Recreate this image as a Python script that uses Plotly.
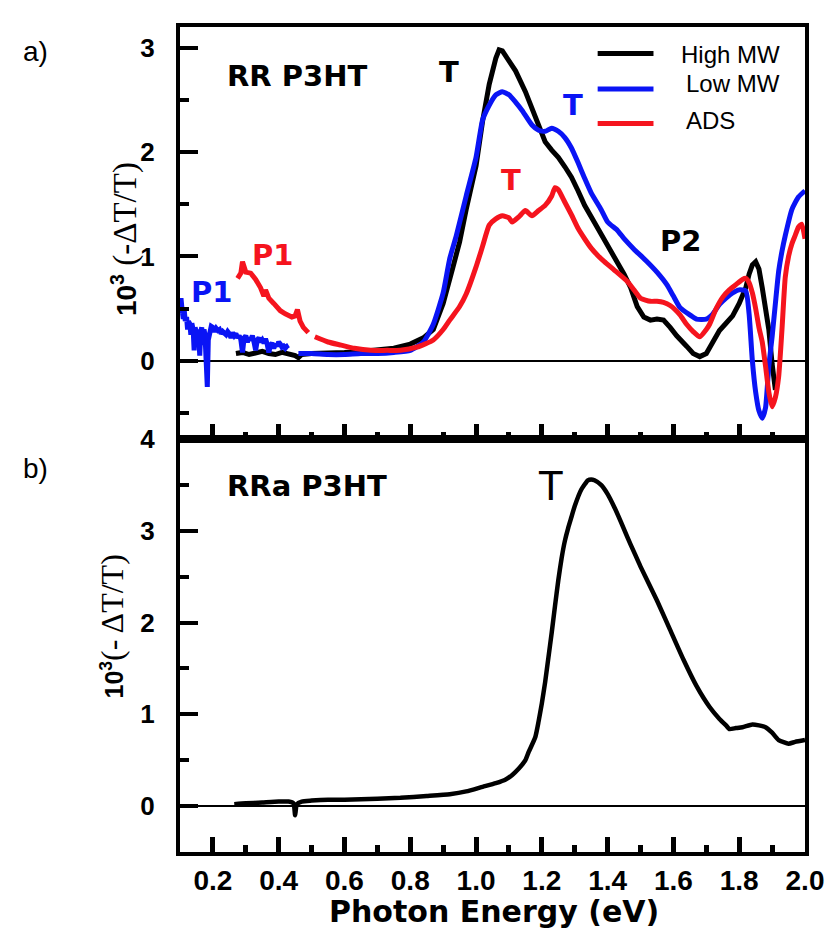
import plotly.graph_objects as go

# ---------------- data ----------------
# Panel a) RR P3HT
high_x = [0.27,0.29,0.31,0.33,0.35,0.37,0.39,0.41,0.43,0.45,0.46,0.47,0.50,0.55,0.60,0.65,0.70,0.75,0.80,0.84,0.87,0.90,0.93,0.95,0.97,1.00,1.02,1.04,1.06,1.07,1.08,1.10,1.12,1.15,1.17,1.19,1.21,1.23,1.25,1.27,1.29,1.31,1.33,1.35,1.37,1.40,1.42,1.45,1.47,1.49,1.51,1.53,1.55,1.57,1.59,1.61,1.64,1.66,1.68,1.70,1.72,1.74,1.76,1.78,1.80,1.82,1.83,1.84,1.85,1.86,1.87,1.88,1.89,1.90,1.91]
high_y = [0.07,0.08,0.06,0.07,0.09,0.07,0.06,0.08,0.07,0.05,0.03,0.06,0.07,0.07,0.08,0.09,0.10,0.12,0.16,0.22,0.30,0.55,0.90,1.14,1.45,1.87,2.30,2.65,2.90,2.98,2.97,2.88,2.78,2.58,2.42,2.25,2.10,2.02,1.95,1.86,1.76,1.63,1.49,1.38,1.27,1.12,1.01,0.83,0.70,0.52,0.42,0.39,0.40,0.39,0.32,0.24,0.14,0.07,0.04,0.07,0.18,0.29,0.36,0.43,0.55,0.70,0.83,0.92,0.95,0.88,0.70,0.50,0.30,-0.03,-0.28]

low1_x = [0.100,0.103,0.106,0.110,0.113,0.116,0.120,0.123,0.126,0.130,0.133,0.136,0.140,0.143,0.146,0.150,0.153,0.156,0.160,0.163,0.166,0.170,0.173,0.176,0.180,0.183,0.186,0.190,0.195,0.200,0.205,0.210,0.215,0.220,0.225,0.230,0.235,0.240,0.245,0.250,0.255,0.260,0.265,0.270,0.275,0.280,0.285,0.290,0.295,0.300,0.305,0.310,0.315,0.320,0.325,0.330,0.335,0.340,0.345,0.350,0.355,0.360,0.365,0.370,0.375,0.380,0.385,0.390,0.395,0.400,0.405,0.410,0.415,0.420,0.425,0.430]
low1_y = [0.45,0.60,0.50,0.40,0.48,0.38,0.42,0.30,0.38,0.35,0.25,0.36,0.30,0.10,0.32,0.28,0.22,0.30,0.05,0.28,0.32,0.15,0.30,0.25,0.02,-0.25,0.20,0.30,0.33,0.32,0.28,0.31,0.29,0.30,0.26,0.28,0.27,0.25,0.28,0.26,0.22,0.27,0.24,0.26,0.22,0.24,0.20,0.08,0.22,0.24,0.18,0.22,0.20,0.24,0.18,0.10,0.20,0.22,0.18,0.20,0.17,0.21,0.16,0.08,0.15,0.17,0.12,0.16,0.14,0.18,0.16,0.13,0.14,0.12,0.14,0.15]
low2_x = [0.46,0.50,0.55,0.60,0.65,0.70,0.75,0.80,0.84,0.87,0.90,0.92,0.94,0.97,1.00,1.02,1.04,1.06,1.08,1.10,1.12,1.14,1.17,1.19,1.21,1.23,1.25,1.27,1.29,1.31,1.33,1.35,1.38,1.40,1.43,1.45,1.48,1.52,1.55,1.58,1.60,1.62,1.65,1.67,1.70,1.72,1.74,1.76,1.78,1.80,1.82,1.83,1.84,1.85,1.86,1.87,1.88,1.89,1.90,1.91,1.92,1.93,1.94,1.96,1.98,2.00]
low2_y = [0.07,0.07,0.06,0.06,0.07,0.07,0.08,0.10,0.18,0.35,0.65,0.98,1.20,1.58,1.95,2.31,2.45,2.55,2.58,2.55,2.48,2.40,2.26,2.21,2.20,2.23,2.20,2.14,2.04,1.90,1.75,1.61,1.45,1.33,1.25,1.17,1.07,0.95,0.85,0.73,0.62,0.51,0.44,0.40,0.40,0.45,0.54,0.60,0.65,0.68,0.67,0.45,0.00,-0.30,-0.48,-0.55,-0.45,-0.05,0.23,0.55,0.86,1.05,1.20,1.45,1.57,1.63]

ads1_x = [0.275,0.285,0.29,0.30,0.315,0.33,0.345,0.355,0.36,0.37,0.385,0.405,0.42,0.44,0.45,0.457,0.465,0.475,0.49]
ads1_y = [0.79,0.84,0.95,0.85,0.84,0.78,0.70,0.62,0.68,0.60,0.55,0.48,0.45,0.42,0.43,0.49,0.38,0.32,0.27]
ads2_x = [0.51,0.55,0.59,0.63,0.68,0.73,0.77,0.82,0.87,0.90,0.92,0.95,0.97,1.00,1.02,1.04,1.06,1.08,1.10,1.11,1.13,1.15,1.17,1.19,1.21,1.23,1.24,1.25,1.27,1.29,1.31,1.33,1.35,1.37,1.39,1.42,1.46,1.48,1.50,1.53,1.55,1.57,1.59,1.62,1.64,1.66,1.68,1.70,1.71,1.73,1.75,1.77,1.79,1.81,1.82,1.83,1.84,1.85,1.86,1.87,1.88,1.89,1.90,1.91,1.92,1.93,1.94,1.95,1.96,1.97,1.98,1.99,2.00]
ads2_y = [0.23,0.18,0.15,0.12,0.10,0.10,0.10,0.13,0.20,0.30,0.39,0.52,0.64,0.90,1.10,1.30,1.36,1.39,1.37,1.33,1.38,1.44,1.39,1.44,1.49,1.58,1.66,1.64,1.52,1.40,1.27,1.17,1.08,1.01,0.95,0.87,0.76,0.68,0.60,0.57,0.57,0.56,0.53,0.44,0.35,0.28,0.23,0.30,0.35,0.50,0.61,0.68,0.73,0.78,0.79,0.75,0.65,0.50,0.32,0.18,-0.05,-0.30,-0.44,-0.35,-0.15,0.30,0.80,1.00,1.12,1.20,1.28,1.31,1.17]

# Panel b) RRa P3HT
rra_x = [0.265,0.30,0.35,0.40,0.43,0.445,0.45,0.455,0.47,0.50,0.55,0.60,0.70,0.77,0.85,0.92,0.97,1.02,1.06,1.09,1.11,1.13,1.15,1.16,1.18,1.19,1.20,1.21,1.22,1.23,1.24,1.25,1.26,1.27,1.28,1.29,1.30,1.32,1.34,1.35,1.36,1.38,1.40,1.42,1.44,1.46,1.48,1.50,1.55,1.59,1.63,1.67,1.71,1.74,1.76,1.77,1.79,1.81,1.84,1.86,1.88,1.90,1.92,1.95,1.97,2.00]
rra_y = [0.02,0.03,0.04,0.05,0.05,0.03,-0.10,0.02,0.05,0.06,0.07,0.07,0.08,0.09,0.11,0.13,0.16,0.21,0.25,0.29,0.34,0.41,0.50,0.59,0.75,0.92,1.12,1.35,1.62,1.89,2.18,2.46,2.70,2.89,3.03,3.15,3.27,3.45,3.55,3.56,3.55,3.50,3.40,3.26,3.10,2.93,2.77,2.61,2.24,1.92,1.60,1.31,1.08,0.95,0.88,0.84,0.85,0.86,0.89,0.88,0.86,0.80,0.72,0.68,0.70,0.72]

x_ticks = [0.2, 0.4, 0.6, 0.8, 1.0, 1.2, 1.4, 1.6, 1.8, 2.0]
x_ticktext = ["0.2", "0.4", "0.6", "0.8", "1.0", "1.2", "1.4", "1.6", "1.8", "2.0"]
x_minor = [0.3, 0.5, 0.7, 0.9, 1.1, 1.3, 1.5, 1.7, 1.9]
ya_ticks = [0, 1, 2, 3]
yb_ticks = [0, 1, 2, 3, 4]

BLACK = "#000000"
BLUE = "#0a14f5"
RED = "#f5141e"

# ---------------- figure ----------------
W, H = 836, 935
L, R, T, B = 180, 29, 15, 83
PW, PH = W - L - R, H - T - B
split = (852 - 433) / PH


def px(xp):
    return (xp - L) / PW


def py(yp):
    return (852 - yp) / PH


fig = go.Figure()

lw = 5
fig.add_trace(go.Scatter(x=high_x, y=high_y, mode="lines", line=dict(color=BLACK, width=lw), xaxis="x2", yaxis="y2", name="High MW"))
fig.add_trace(go.Scatter(x=low1_x, y=low1_y, mode="lines", line=dict(color=BLUE, width=lw), xaxis="x2", yaxis="y2", name="Low MW"))
fig.add_trace(go.Scatter(x=low2_x, y=low2_y, mode="lines", line=dict(color=BLUE, width=lw, shape="spline", smoothing=0.5), xaxis="x2", yaxis="y2", name="Low MW"))
fig.add_trace(go.Scatter(x=ads1_x, y=ads1_y, mode="lines", line=dict(color=RED, width=lw), xaxis="x2", yaxis="y2", name="ADS"))
fig.add_trace(go.Scatter(x=ads2_x, y=ads2_y, mode="lines", line=dict(color=RED, width=lw, shape="spline", smoothing=0.5), xaxis="x2", yaxis="y2", name="ADS"))
fig.add_trace(go.Scatter(x=rra_x, y=rra_y, mode="lines", line=dict(color=BLACK, width=4.5, shape="spline", smoothing=0.5), xaxis="x", yaxis="y", name="RRa"))

SANS = "Liberation Sans, Arial, sans-serif"
WIDE = "DejaVu Sans, Liberation Sans, sans-serif"
xtickfont = dict(family=SANS, size=28, color="black", weight="bold")
ytickfont = dict(family=SANS, size=26, color="black", weight="bold")

TICKC = "black"
common_x = dict(range=[0.1, 2.0], tickmode="array", tickvals=x_ticks, ticktext=x_ticktext, ticks="inside",
                ticklen=15, tickwidth=5, tickcolor=TICKC,
                minor=dict(tickmode="array", tickvals=x_minor,
                           ticks="inside", ticklen=7, tickwidth=5, tickcolor=TICKC),
                showline=True, linewidth=4, linecolor="black", mirror=True,
                showgrid=False, zeroline=False, layer="above traces")
common_y = dict(ticks="inside", ticklen=18, tickwidth=4, tickcolor="black",
                minor=dict(dtick=0.5, tick0=0, ticks="inside", ticklen=9, tickwidth=4, tickcolor="black"),
                showline=True, linewidth=4, linecolor="black", mirror=True, showgrid=False,
                zeroline=True, zerolinecolor="black", zerolinewidth=1.5, tickfont=ytickfont,
                ticklabelstandoff=16, layer="above traces")
fig.update_layout(
    xaxis=dict(**common_x, anchor="y", domain=[0, 1], tickfont=xtickfont),
    xaxis2=dict(**common_x, anchor="y2", domain=[0, 1], matches="x", showticklabels=False),
    yaxis=dict(**common_y, domain=[0, split], range=[-0.5, 4.0], tickvals=yb_ticks),
    yaxis2=dict(**common_y, domain=[split, 1], range=[-0.75, 3.2], tickvals=ya_ticks),
    width=W, height=H, margin=dict(l=L, r=R, t=T, b=B),
    paper_bgcolor="white", plot_bgcolor="white", showlegend=False,
)

ann = []


def add_text(text, xp, yp, size, color="black", bold=True, family=WIDE, angle=0):
    ann.append(dict(text=text, x=px(xp), y=py(yp), xref="paper", yref="paper", showarrow=False,
                    xanchor="center", yanchor="middle", textangle=angle,
                    font=dict(family=family, size=size, color=color, weight="bold" if bold else "normal")))


add_text("a)", 35, 40, 28, bold=False, family=SANS)
add_text("b)", 35, 463, 28, bold=False, family=SANS)
add_text("RR P3HT", 297, 65, 29)
add_text("T", 450, 61, 29)
add_text("T", 574, 94, 29, color=BLUE)
add_text("T", 512, 170, 29, color=RED)
add_text("P2", 682, 232, 29)
add_text("P1", 212, 284, 29, color=BLUE)
add_text("P1", 273, 246, 29, color=RED)
add_text("RRa P3HT", 307, 481, 29)
add_text("T", 552, 480, 42, bold=False, family=SANS)
add_text("High MW", 732, 43, 24, bold=False, family=SANS)
add_text("Low MW", 735, 72, 24, bold=False, family=SANS)
add_text("ADS", 712, 110, 24, bold=False, family=SANS)
add_text("Photon Energy (eV)", 495, 912, 30)

add_text("<b>10<sup>3</sup></b><span style='font-family:Liberation Serif;font-size:33px;font-weight:normal'> (-ΔT/T)</span>",
         125, 230, 28, angle=-90, family=SANS)
add_text("<b>10<sup>3</sup></b><span style='font-family:Liberation Serif;font-size:32px;font-weight:normal'>(- ΔT/T)</span>",
         112, 623, 25, angle=-90, family=SANS)

fig.update_layout(annotations=ann)

# legend key lines
shapes = []
for yk, col in [(42, BLACK), (78, BLUE), (113, RED)]:
    shapes.append(dict(type="line", xref="paper", yref="paper", x0=px(599), x1=px(655), y0=py(yk), y1=py(yk),
                       line=dict(color=col, width=5)))
fig.update_layout(shapes=shapes)

fig.write_html("out.html")
